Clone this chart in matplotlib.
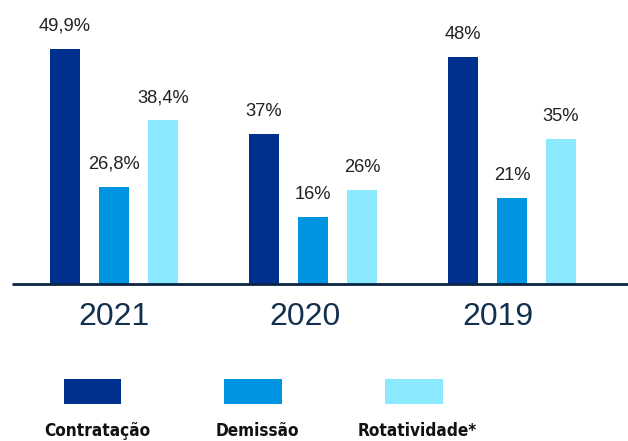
import matplotlib
matplotlib.use("Agg")
import matplotlib.pyplot as plt
from matplotlib.patches import Rectangle
import numpy as np

years = ["2021", "2020", "2019"]
series = ["Contratação", "Demissão", "Rotatividade*"]
# displayed labels
contratacao_labels = ["49,9%", "37%", "48%"]
demissao_labels = ["26,8%", "16%", "21%"]
rotatividade_labels = ["38,4%", "26%", "35%"]
# bar heights as drawn in the picture (visual scale, %)
contratacao_heights = [49.9, 31.8, 48.2]
demissao_heights = [20.6, 14.2, 18.3]
rotatividade_heights = [34.8, 20.0, 30.8]

colors = ["#00308F", "#0095E1", "#8AE9FE"]
W, H = 628, 441
fig = plt.figure(figsize=(W / 100, H / 100), dpi=100)

base_px = 284
ax = fig.add_axes([0, (H - base_px) / H, 1, base_px / H])
spacing_px = 199
first_px = 114
ax.set_xlim(-first_px / spacing_px, (W - first_px) / spacing_px)
px_per_unit = 4.71
ax.set_ylim(0, base_px / px_per_unit)
ax.axis("off")

x = np.arange(len(years))
off = 49 / spacing_px
bw = 30 / spacing_px
all_heights = [contratacao_heights, demissao_heights, rotatividade_heights]
all_labels = [contratacao_labels, demissao_labels, rotatividade_labels]
for k in range(3):
    xs = x + (k - 1) * off
    ax.bar(xs, all_heights[k], width=bw, color=colors[k], zorder=2)
    for xi, h, lab in zip(xs, all_heights[k], all_labels[k]):
        ax.annotate(lab, (xi, h), xytext=(0, 13), textcoords="offset points",
                    ha="center", va="baseline", fontsize=13.2, color="#222222",
                    family="Liberation Sans")

ax.plot([(12 - first_px) / spacing_px, (W - first_px) / spacing_px], [0, 0],
        color="#0B2545", lw=2.0, solid_capstyle="butt", zorder=3, clip_on=False)

year_shift = [0.0, -0.04, -0.07]
for xi, y, s in zip(x, years, year_shift):
    ax.annotate(y, (xi + s, 0), xytext=(0, -29.5), textcoords="offset points",
                ha="center", va="baseline", fontsize=23, color="#14304F",
                family="Liberation Sans", annotation_clip=False)

# legend
leg_centers_px = [92.5, 253, 414]
text_centers_px = [97.5, 257, 417]
for k in range(3):
    cx = leg_centers_px[k]
    fig.add_artist(Rectangle(((cx - 29) / W, (H - 404) / H), 58 / W, 25 / H,
                             transform=fig.transFigure, color=colors[k], lw=0))
    fig.text(text_centers_px[k] / W, (H - 431) / H, series[k], ha="center",
             va="center", fontsize=12.3, fontweight="bold", color="#111111",
             family=["Liberation Sans Narrow", "DejaVu Sans"], fontstretch="condensed")

fig.savefig("out.png", dpi=100)
